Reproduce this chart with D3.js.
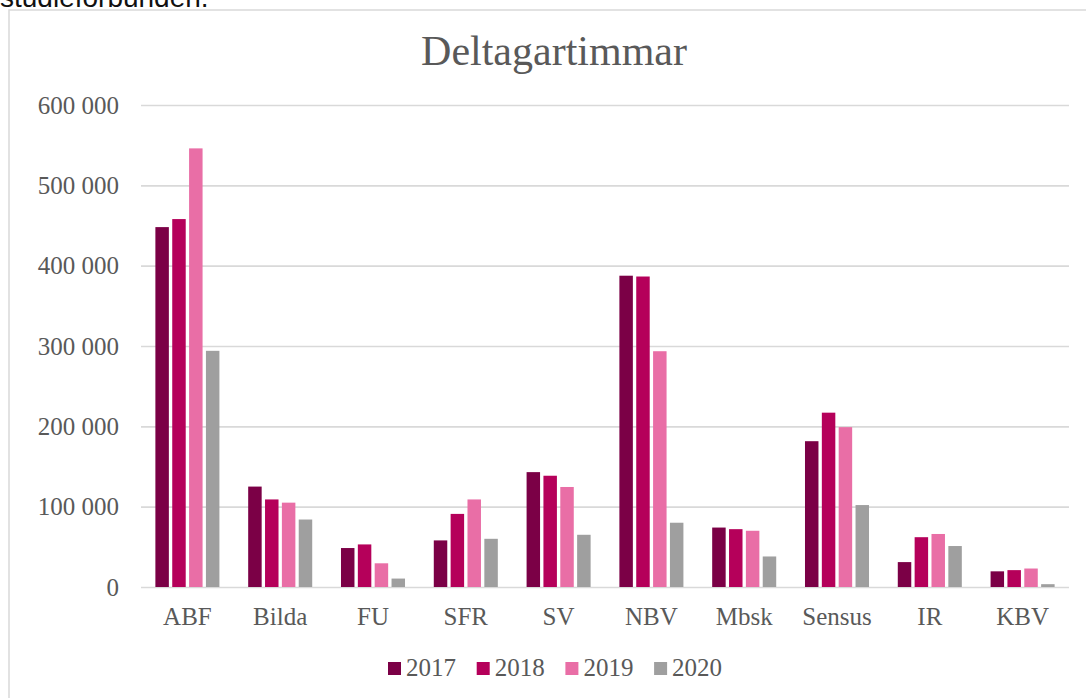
<!DOCTYPE html>
<html>
<head>
<meta charset="utf-8">
<script src="https://cdn.jsdelivr.net/npm/d3@7"></script>
<style>
  body { margin: 0; background: white; }
  svg { display: block; }
</style>
</head>
<body>
<svg></svg>
<script>
const categories = ["ABF", "Bilda", "FU", "SFR", "SV", "NBV", "Mbsk", "Sensus", "IR", "KBV"];
const years = ["2017", "2018", "2019", "2020"];
const v2017 = [448000, 125000, 48500, 58000, 143000, 387500, 74000, 181500, 31000, 19500];
const v2018 = [458000, 109000, 53000, 91000, 138500, 386500, 72000, 217000, 62000, 21000];
const v2019 = [546000, 105000, 29500, 109000, 124500, 293500, 70000, 199000, 66000, 23000];
const v2020 = [294000, 84000, 10500, 60000, 65000, 80000, 38000, 102000, 51000, 3500];
const yTicks = [0, 100000, 200000, 300000, 400000, 500000, 600000];
const colors = ["#7b0046", "#b5005a", "#e96ea6", "#9f9f9f"];

const w = 1086;
const h = 698;
const serif = "Georgia, 'Liberation Serif', serif";
const textColor = "#595959";

const svg = d3.select("svg")
    .attr("width", w)
    .attr("height", h)
    .attr("viewBox", [0, 0, w, h]);

// cut-off caption line from the page above the chart
svg.append("text")
    .attr("x", 0)
    .attr("y", 7)
    .attr("font-family", "'Liberation Sans', Arial, sans-serif")
    .attr("font-size", "28px")
    .attr("fill", "#111")
    .text("studieförbunden.");

// chart frame
svg.append("rect")
    .attr("x", 9)
    .attr("y", 10)
    .attr("width", w + 20)
    .attr("height", h + 20)
    .attr("fill", "white")
    .attr("stroke", "#d9d9d9")
    .attr("stroke-width", 1.5);

const series = [v2017, v2018, v2019, v2020];
const rows = categories.map((c, i) => ({
    cat: c,
    values: years.map((y, j) => ({ year: y, value: series[j][i] }))
}));

const x0 = d3.scaleBand()
    .domain(categories)
    .range([141, 1069])
    .paddingInner(0.31)
    .paddingOuter(0.155);

const x1 = d3.scaleBand()
    .domain(years)
    .range([0, x0.bandwidth()])
    .paddingInner(0.2);

const y = d3.scaleLinear()
    .domain([0, 600000])
    .range([587, 105]);

const color = d3.scaleOrdinal().domain(years).range(colors);

const fmt = d => d3.format(",")(d).replace(/,/g, " ");

// title
svg.append("text")
    .attr("x", 554)
    .attr("y", 65)
    .attr("text-anchor", "middle")
    .attr("font-family", serif)
    .attr("font-size", "42px")
    .attr("fill", textColor)
    .text("Deltagartimmar");

// grid + y labels
const yAxis = svg.append("g")
    .attr("transform", "translate(141,0)")
    .call(d3.axisLeft(y).tickValues(yTicks).tickSize(-928).tickFormat(fmt).tickPadding(22));

yAxis.select(".domain").remove();
yAxis.selectAll(".tick line")
    .attr("stroke", "#d9d9d9")
    .attr("stroke-width", 1.6);
yAxis.selectAll(".tick text")
    .attr("font-family", serif)
    .attr("font-size", "25px")
    .attr("fill", textColor);

// bars
svg.append("g")
    .selectAll("g")
    .data(rows)
    .join("g")
    .attr("transform", d => `translate(${x0(d.cat)},0)`)
    .selectAll("rect")
    .data(d => d.values)
    .join("rect")
    .attr("x", d => x1(d.year))
    .attr("y", d => y(d.value))
    .attr("width", x1.bandwidth())
    .attr("height", d => y(0) - y(d.value))
    .attr("fill", d => color(d.year));

// category labels
const xAxis = svg.append("g")
    .attr("transform", `translate(0,${y(0)})`)
    .call(d3.axisBottom(x0).tickSize(0).tickPadding(20));

xAxis.select(".domain").remove();
xAxis.selectAll(".tick text")
    .attr("font-family", serif)
    .attr("font-size", "25px")
    .attr("fill", textColor);

// legend
const legend = svg.append("g")
    .attr("transform", "translate(388,662)");

const item = legend.selectAll("g")
    .data(years)
    .join("g")
    .attr("transform", (d, i) => `translate(${i * 88.7},0)`);

item.append("rect")
    .attr("width", 13)
    .attr("height", 13)
    .attr("fill", d => color(d));

item.append("text")
    .attr("x", 18)
    .attr("y", 14)
    .attr("font-family", serif)
    .attr("font-size", "25px")
    .attr("fill", textColor)
    .text(d => d);
</script>
</body>
</html>
